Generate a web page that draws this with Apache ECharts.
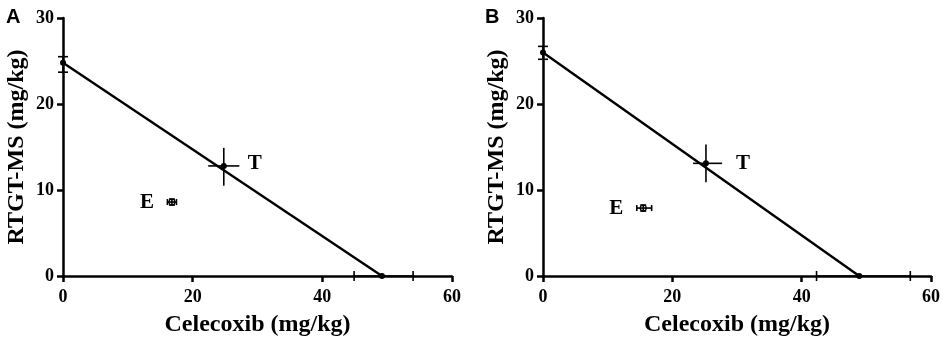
<!DOCTYPE html>
<html>
<head>
<meta charset="utf-8">
<script src="https://cdn.jsdelivr.net/npm/echarts@6/dist/echarts.min.js"></script>
<style>
  html, body { margin: 0; padding: 0; background: #fff; }
  #chart { width: 943px; height: 342px; }
</style>
</head>
<body>
<div id="chart"></div>
<script>
// axis ticks
const xTicks = [0, 20, 40, 60];
const yTicks = [0, 10, 20, 30];

// isobole lines (y intercept -> x intercept)
const lineA = [[0, 24.8], [49.2, 0]];
const lineB = [[0, 26.0], [48.9, 0]];

// points as [x, y, xLow, xHigh, yLow, yHigh]
const interceptsA = [[0, 24.8, 0, 0, 23.7, 25.5], [49.2, 0, 44.9, 54.0, 0, 0]];
const interceptsB = [[0, 26.0, 0, 0, 25.2, 26.7], [48.9, 0, 42.3, 56.8, 0, 0]];
const theoreticalA = [[24.8, 12.8, 22.4, 27.2, 10.5, 14.9]];
const theoreticalB = [[25.2, 13.1, 23.2, 27.7, 10.9, 15.3]];
const experimentalA = [[16.8, 8.6, 16.1, 17.5, 8.25, 8.95]];
const experimentalB = [[15.5, 7.9, 14.5, 16.8, 7.55, 8.25]];

const SERIF = '"Liberation Serif", "Times New Roman", serif';

function makeAxisX(gridIndex) {
  return {
    gridIndex, type: 'value', min: 0, max: 60, interval: 20,
    name: 'Celecoxib (mg/kg)', nameLocation: 'middle', nameGap: 37,
    nameTextStyle: { fontFamily: SERIF, fontWeight: 'bold', fontSize: 24, color: '#000' },
    axisLine: { show: true, onZero: false, lineStyle: { color: '#000', width: 2.5 } },
    axisTick: { show: true, length: 6, lineStyle: { color: '#000', width: 2.5 } },
    axisLabel: { fontFamily: SERIF, fontWeight: 'bold', fontSize: 18, color: '#000', margin: 12,
      formatter: v => xTicks.includes(v) ? String(v) : '' },
    splitLine: { show: false }
  };
}
function makeAxisY(gridIndex) {
  return {
    gridIndex, type: 'value', min: 0, max: 30, interval: 10,
    name: 'RTGT-MS (mg/kg)', nameLocation: 'middle', nameGap: 34, nameRotate: 90,
    nameTextStyle: { fontFamily: SERIF, fontWeight: 'bold', fontSize: 24, color: '#000' },
    axisLine: { show: true, onZero: false, lineStyle: { color: '#000', width: 2.5 } },
    axisTick: { show: true, length: 6, lineStyle: { color: '#000', width: 2.5 } },
    axisLabel: { fontFamily: SERIF, fontWeight: 'bold', fontSize: 18, color: '#000', margin: 9,
      formatter: v => yTicks.includes(v) ? String(v) : '' },
    splitLine: { show: false }
  };
}

// error bar renderer; cap = half cap length in px, marker = 'dot' | 'ring'
// tag = optional text drawn at [dx, dy] from the point
function errorBars(cap, marker, tag, dx, dy) {
  return function (params, api) {
    const x = api.value(0), y = api.value(1);
    const c = api.coord([x, y]);
    const h0 = api.coord([api.value(2), y]), h1 = api.coord([api.value(3), y]);
    const v0 = api.coord([x, api.value(4)]), v1 = api.coord([x, api.value(5)]);
    const st = { stroke: '#000', lineWidth: 1.6 };
    const kids = [];
    if (h1[0] - h0[0] > 0.5) {
      kids.push({ type: 'line', shape: { x1: h0[0], y1: c[1], x2: h1[0], y2: c[1] }, style: st });
      if (cap > 0) {
        kids.push({ type: 'line', shape: { x1: h0[0], y1: c[1] - cap, x2: h0[0], y2: c[1] + cap }, style: st });
        kids.push({ type: 'line', shape: { x1: h1[0], y1: c[1] - cap, x2: h1[0], y2: c[1] + cap }, style: st });
      }
    }
    if (v0[1] - v1[1] > 0.5) {
      kids.push({ type: 'line', shape: { x1: c[0], y1: v0[1], x2: c[0], y2: v1[1] }, style: st });
      if (cap > 0) {
        kids.push({ type: 'line', shape: { x1: c[0] - cap, y1: v0[1], x2: c[0] + cap, y2: v0[1] }, style: st });
        kids.push({ type: 'line', shape: { x1: c[0] - cap, y1: v1[1], x2: c[0] + cap, y2: v1[1] }, style: st });
      }
    }
    if (marker === 'dot') {
      kids.push({ type: 'circle', shape: { cx: c[0], cy: c[1], r: 3 }, style: { fill: '#000' } });
    } else if (marker === 'ring') {
      kids.push({ type: 'circle', shape: { cx: c[0], cy: c[1], r: 3 }, style: { fill: 'none', stroke: '#000', lineWidth: 1.2 } });
    }
    if (tag) {
      kids.push({ type: 'text', x: c[0] + dx, y: c[1] + dy,
        style: { text: tag, fontFamily: SERIF, fontWeight: 'bold', fontSize: 21, fill: '#000',
          align: 'center', verticalAlign: 'middle' } });
    }
    return { type: 'group', children: kids };
  };
}

function panelSeries(idx, line, intercepts, theo, expt, tOff, eOff) {
  return [
    { type: 'line', xAxisIndex: idx, yAxisIndex: idx, data: line, symbol: 'none',
      lineStyle: { color: '#000', width: 2.4 }, silent: true },
    { type: 'custom', xAxisIndex: idx, yAxisIndex: idx, data: intercepts, clip: false,
      renderItem: errorBars(5, 'dot') },
    { type: 'custom', xAxisIndex: idx, yAxisIndex: idx, data: theo, clip: false,
      renderItem: errorBars(0, 'dot', 'T', tOff[0], tOff[1]) },
    { type: 'custom', xAxisIndex: idx, yAxisIndex: idx, data: expt, clip: false,
      renderItem: errorBars(3, 'ring', 'E', eOff[0], eOff[1]) }
  ];
}

const chart = echarts.init(document.getElementById('chart'));
chart.setOption({
  animation: false,
  title: [
    { text: 'A', left: 1, top: 2, textStyle: { fontFamily: '"Liberation Sans", Arial, sans-serif', fontWeight: 'bold', fontSize: 20, color: '#000' } },
    { text: 'B', left: 480, top: 2, textStyle: { fontFamily: '"Liberation Sans", Arial, sans-serif', fontWeight: 'bold', fontSize: 20, color: '#000' } }
  ],
  grid: [
    { left: 63, top: 18, width: 389, height: 258 },
    { left: 543, top: 18, width: 390, height: 258 }
  ],
  xAxis: [makeAxisX(0), makeAxisX(1)],
  yAxis: [makeAxisY(0), makeAxisY(1)],
  series: [
    ...panelSeries(0, lineA, interceptsA, theoreticalA, experimentalA, [31, -2], [-25, 1]),
    ...panelSeries(1, lineB, interceptsB, theoreticalB, experimentalB, [37, 0], [-27, 1])
  ]
});
</script>
</body>
</html>
